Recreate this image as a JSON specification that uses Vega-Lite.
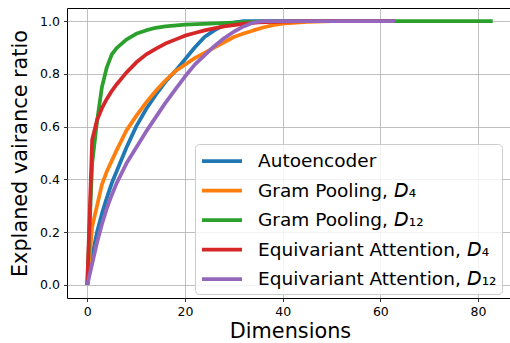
{
  "$schema": "https://vega.github.io/schema/vega-lite/v6.json",
  "autosize": {"type": "none"},
  "padding": {"left": 67, "top": 8, "right": 0, "bottom": 45},
  "width": 446,
  "height": 290,
  "background": "white",
  "config": {
    "font": "DejaVu Sans",
    "view": {"stroke": "black", "strokeWidth": 1},
    "axis": {
      "domain": false,
      "grid": true,
      "gridColor": "#b0b0b0",
      "gridWidth": 0.8,
      "tickColor": "black",
      "tickSize": 3.5,
      "tickWidth": 0.8,
      "labelFont": "DejaVu Sans",
      "labelFontSize": 12.5,
      "labelColor": "black",
      "titleFont": "DejaVu Sans",
      "titleFontSize": 20.8,
      "titleFontWeight": "normal",
      "titleColor": "black"
    }
  },
  "data": {
    "values": [
      {"series": "Autoencoder", "x": 0, "y": 0},
      {"series": "Autoencoder", "x": 1, "y": 0.11},
      {"series": "Autoencoder", "x": 2, "y": 0.2},
      {"series": "Autoencoder", "x": 3, "y": 0.27},
      {"series": "Autoencoder", "x": 4, "y": 0.33},
      {"series": "Autoencoder", "x": 5, "y": 0.385},
      {"series": "Autoencoder", "x": 6, "y": 0.43},
      {"series": "Autoencoder", "x": 8, "y": 0.52},
      {"series": "Autoencoder", "x": 10, "y": 0.6},
      {"series": "Autoencoder", "x": 12, "y": 0.665},
      {"series": "Autoencoder", "x": 14, "y": 0.72},
      {"series": "Autoencoder", "x": 16, "y": 0.77},
      {"series": "Autoencoder", "x": 18, "y": 0.81},
      {"series": "Autoencoder", "x": 20, "y": 0.855},
      {"series": "Autoencoder", "x": 22, "y": 0.9},
      {"series": "Autoencoder", "x": 24, "y": 0.94},
      {"series": "Autoencoder", "x": 26, "y": 0.965},
      {"series": "Autoencoder", "x": 28, "y": 0.985},
      {"series": "Autoencoder", "x": 30, "y": 0.995},
      {"series": "Autoencoder", "x": 32, "y": 1.0},
      {"series": "Autoencoder", "x": 45, "y": 1.0},
      {"series": "Gram Pooling, D4", "x": 0, "y": 0},
      {"series": "Gram Pooling, D4", "x": 1, "y": 0.22},
      {"series": "Gram Pooling, D4", "x": 2, "y": 0.3},
      {"series": "Gram Pooling, D4", "x": 3, "y": 0.38},
      {"series": "Gram Pooling, D4", "x": 4, "y": 0.43},
      {"series": "Gram Pooling, D4", "x": 5, "y": 0.47},
      {"series": "Gram Pooling, D4", "x": 6, "y": 0.51},
      {"series": "Gram Pooling, D4", "x": 8, "y": 0.585},
      {"series": "Gram Pooling, D4", "x": 10, "y": 0.64},
      {"series": "Gram Pooling, D4", "x": 12, "y": 0.69},
      {"series": "Gram Pooling, D4", "x": 14, "y": 0.735},
      {"series": "Gram Pooling, D4", "x": 16, "y": 0.775},
      {"series": "Gram Pooling, D4", "x": 18, "y": 0.81},
      {"series": "Gram Pooling, D4", "x": 20, "y": 0.835},
      {"series": "Gram Pooling, D4", "x": 22, "y": 0.86},
      {"series": "Gram Pooling, D4", "x": 24, "y": 0.88},
      {"series": "Gram Pooling, D4", "x": 26, "y": 0.9},
      {"series": "Gram Pooling, D4", "x": 28, "y": 0.92},
      {"series": "Gram Pooling, D4", "x": 30, "y": 0.94},
      {"series": "Gram Pooling, D4", "x": 32, "y": 0.953},
      {"series": "Gram Pooling, D4", "x": 34, "y": 0.965},
      {"series": "Gram Pooling, D4", "x": 36, "y": 0.976},
      {"series": "Gram Pooling, D4", "x": 38, "y": 0.985},
      {"series": "Gram Pooling, D4", "x": 40, "y": 0.991},
      {"series": "Gram Pooling, D4", "x": 45, "y": 0.997},
      {"series": "Gram Pooling, D4", "x": 50, "y": 1.0},
      {"series": "Gram Pooling, D4", "x": 63, "y": 1.0},
      {"series": "Gram Pooling, D12", "x": 0, "y": 0},
      {"series": "Gram Pooling, D12", "x": 1, "y": 0.46},
      {"series": "Gram Pooling, D12", "x": 2, "y": 0.62},
      {"series": "Gram Pooling, D12", "x": 3, "y": 0.75},
      {"series": "Gram Pooling, D12", "x": 4, "y": 0.825},
      {"series": "Gram Pooling, D12", "x": 5, "y": 0.873},
      {"series": "Gram Pooling, D12", "x": 6, "y": 0.898},
      {"series": "Gram Pooling, D12", "x": 8, "y": 0.93},
      {"series": "Gram Pooling, D12", "x": 10, "y": 0.952},
      {"series": "Gram Pooling, D12", "x": 12, "y": 0.965},
      {"series": "Gram Pooling, D12", "x": 14, "y": 0.975},
      {"series": "Gram Pooling, D12", "x": 16, "y": 0.98},
      {"series": "Gram Pooling, D12", "x": 20, "y": 0.987},
      {"series": "Gram Pooling, D12", "x": 25, "y": 0.991},
      {"series": "Gram Pooling, D12", "x": 30, "y": 0.995},
      {"series": "Gram Pooling, D12", "x": 35, "y": 0.998},
      {"series": "Gram Pooling, D12", "x": 40, "y": 1.0},
      {"series": "Gram Pooling, D12", "x": 83, "y": 1.0},
      {"series": "Equivariant Attention, D4", "x": 0, "y": 0},
      {"series": "Equivariant Attention, D4", "x": 1, "y": 0.55},
      {"series": "Equivariant Attention, D4", "x": 2, "y": 0.625},
      {"series": "Equivariant Attention, D4", "x": 3, "y": 0.67},
      {"series": "Equivariant Attention, D4", "x": 4, "y": 0.705},
      {"series": "Equivariant Attention, D4", "x": 5, "y": 0.735},
      {"series": "Equivariant Attention, D4", "x": 6, "y": 0.76},
      {"series": "Equivariant Attention, D4", "x": 8, "y": 0.805},
      {"series": "Equivariant Attention, D4", "x": 10, "y": 0.843},
      {"series": "Equivariant Attention, D4", "x": 12, "y": 0.873},
      {"series": "Equivariant Attention, D4", "x": 14, "y": 0.895},
      {"series": "Equivariant Attention, D4", "x": 16, "y": 0.915},
      {"series": "Equivariant Attention, D4", "x": 18, "y": 0.93},
      {"series": "Equivariant Attention, D4", "x": 20, "y": 0.945},
      {"series": "Equivariant Attention, D4", "x": 22, "y": 0.955},
      {"series": "Equivariant Attention, D4", "x": 24, "y": 0.965},
      {"series": "Equivariant Attention, D4", "x": 26, "y": 0.973},
      {"series": "Equivariant Attention, D4", "x": 28, "y": 0.98},
      {"series": "Equivariant Attention, D4", "x": 30, "y": 0.985},
      {"series": "Equivariant Attention, D4", "x": 32, "y": 0.99},
      {"series": "Equivariant Attention, D4", "x": 35, "y": 0.995},
      {"series": "Equivariant Attention, D4", "x": 40, "y": 0.998},
      {"series": "Equivariant Attention, D4", "x": 45, "y": 1.0},
      {"series": "Equivariant Attention, D4", "x": 63, "y": 1.0},
      {"series": "Equivariant Attention, D12", "x": 0, "y": 0},
      {"series": "Equivariant Attention, D12", "x": 1, "y": 0.08},
      {"series": "Equivariant Attention, D12", "x": 2, "y": 0.16},
      {"series": "Equivariant Attention, D12", "x": 3, "y": 0.23},
      {"series": "Equivariant Attention, D12", "x": 4, "y": 0.29},
      {"series": "Equivariant Attention, D12", "x": 5, "y": 0.34},
      {"series": "Equivariant Attention, D12", "x": 6, "y": 0.385},
      {"series": "Equivariant Attention, D12", "x": 8, "y": 0.46},
      {"series": "Equivariant Attention, D12", "x": 10, "y": 0.52},
      {"series": "Equivariant Attention, D12", "x": 12, "y": 0.58},
      {"series": "Equivariant Attention, D12", "x": 14, "y": 0.635},
      {"series": "Equivariant Attention, D12", "x": 16, "y": 0.69},
      {"series": "Equivariant Attention, D12", "x": 18, "y": 0.74},
      {"series": "Equivariant Attention, D12", "x": 20, "y": 0.79},
      {"series": "Equivariant Attention, D12", "x": 22, "y": 0.835},
      {"series": "Equivariant Attention, D12", "x": 24, "y": 0.87},
      {"series": "Equivariant Attention, D12", "x": 26, "y": 0.905},
      {"series": "Equivariant Attention, D12", "x": 28, "y": 0.935},
      {"series": "Equivariant Attention, D12", "x": 30, "y": 0.96},
      {"series": "Equivariant Attention, D12", "x": 32, "y": 0.98},
      {"series": "Equivariant Attention, D12", "x": 34, "y": 0.995},
      {"series": "Equivariant Attention, D12", "x": 36, "y": 1.0},
      {"series": "Equivariant Attention, D12", "x": 63, "y": 1.0}
    ]
  },
  "mark": {"type": "line", "strokeWidth": 3.75, "strokeCap": "butt", "strokeJoin": "round", "clip": true},
  "encoding": {
    "x": {
      "field": "x",
      "type": "quantitative",
      "scale": {"domain": [-4.15, 87.15], "nice": false, "zero": false},
      "axis": {"values": [0, 20, 40, 60, 80], "title": "Dimensions", "labelPadding": 4, "titlePadding": 3}
    },
    "y": {
      "field": "y",
      "type": "quantitative",
      "scale": {"domain": [-0.05, 1.05], "nice": false, "zero": false},
      "axis": {"values": [0, 0.2, 0.4, 0.6, 0.8, 1.0], "format": ".1f", "title": "Explaned vairance ratio", "labelPadding": 4, "titlePadding": 9}
    },
    "color": {
      "field": "series",
      "type": "nominal",
      "scale": {
        "domain": ["Autoencoder", "Gram Pooling, D4", "Gram Pooling, D12", "Equivariant Attention, D4", "Equivariant Attention, D12"],
        "range": ["#1f77b4", "#ff7f0e", "#2ca02c", "#d62728", "#9467bd"]
      },
      "legend": {
        "title": null,
        "orient": "none",
        "legendX": 128,
        "legendY": 136,
        "fillColor": "rgba(255,255,255,0.8)",
        "strokeColor": "#cccccc",
        "cornerRadius": 4,
        "padding": 5,
        "symbolType": "M-2,0H2",
        "symbolSize": 400,
        "symbolOffset": 10,
        "symbolStrokeWidth": 3.75,
        "symbolStrokeColor": {"expr": "scale('color', datum.value)"},
        "labelFont": "DejaVu Sans",
        "labelFontSize": 18.5,
        "labelColor": "black",
        "labelOffset": 24,
        "labelLimit": 400,
        "rowPadding": 7.5,
        "labelExpr": "replace(replace(datum.label, 'D12', '𝘋₁₂'), 'D4', '𝘋₄')"
      }
    }
  }
}
